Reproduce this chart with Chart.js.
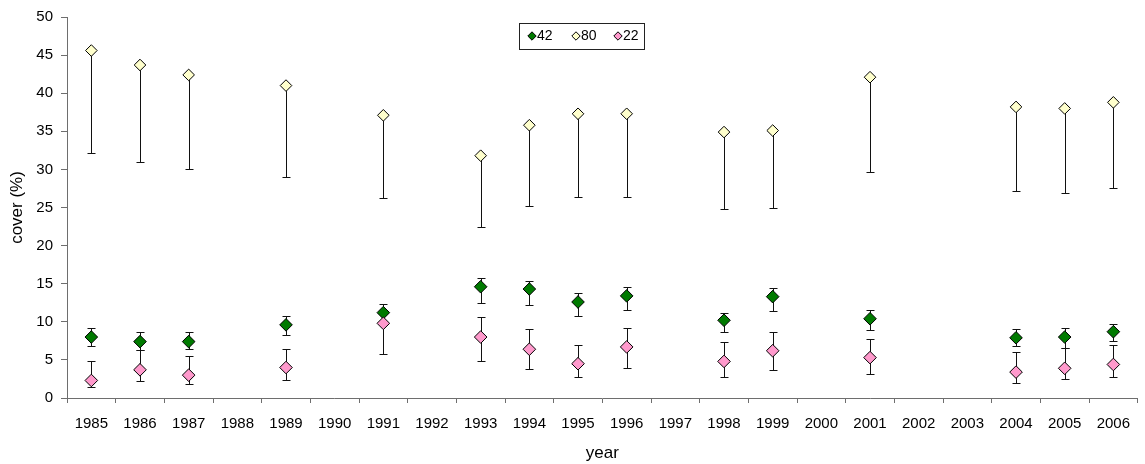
<!DOCTYPE html>
<html>
<head>
<meta charset="utf-8">
<script src="https://cdn.jsdelivr.net/npm/chart.js@4.4.1/dist/chart.umd.min.js"></script>
<style>
  html, body { margin: 0; padding: 0; background: #ffffff; }
  #wrap { width: 1145px; height: 464px; position: relative; }
</style>
</head>
<body>
<div id="wrap"><canvas id="c"></canvas></div>
<script>
// Survey years (a category for every year, surveyed or not)
const years = ['1985','1986','1987','1988','1989','1990','1991','1992','1993','1994','1995',
               '1996','1997','1998','1999','2000','2001','2002','2003','2004','2005','2006'];

// Plot 42: mean cover and error-bar ends
const s42     = [8.0, 7.4, 7.4, null, 9.6, null, 11.2, null, 14.6, 14.3, 12.6, 13.4, null, 10.2, 13.3, null, 10.4, null, null, 7.9, 8.0, 8.7];
const s42High = [9.2, 8.6, 8.6, null, 10.8, null, 12.4, null, 15.7, 15.4, 13.8, 14.6, null, 11.2, 14.4, null, 11.6, null, null, 9.0, 9.2, 9.7];
const s42Low  = [6.8, 6.3, 6.4, null, 8.3, null, 10.0, null, 12.5, 12.2, 10.8, 11.6, null, 8.7, 11.4, null, 8.9, null, null, 6.8, 6.6, 7.5];

// Plot 80: mean cover and lower error-bar end
const s80     = [45.6, 43.7, 42.4, null, 41.0, null, 37.1, null, 31.8, 35.8, 37.3, 37.3, null, 34.9, 35.1, null, 42.1, null, null, 38.2, 38.0, 38.8];
const s80Low  = [32.2, 31.0, 30.0, null, 29.0, null, 26.2, null, 22.4, 25.2, 26.4, 26.4, null, 24.8, 24.9, null, 29.7, null, null, 27.1, 26.9, 27.5];

// Plot 22: mean cover and error-bar ends
const s22     = [2.3, 3.7, 3.0, null, 4.0, null, 9.8, null, 8.0, 6.4, 4.5, 6.7, null, 4.8, 6.2, null, 5.3, null, null, 3.4, 3.9, 4.4];
const s22High = [4.9, 6.3, 5.5, null, 6.4, null, 11.4, null, 10.6, 9.0, 7.0, 9.2, null, 7.3, 8.7, null, 7.8, null, null, 6.0, 6.6, 6.9];
const s22Low  = [1.5, 2.2, 1.8, null, 2.3, null, 5.8, null, 4.8, 3.8, 2.7, 4.0, null, 2.8, 3.7, null, 3.2, null, null, 2.0, 2.5, 2.7];

const yTicks = [0, 5, 10, 15, 20, 25, 30, 35, 40, 45, 50];

const FONT = '"Liberation Sans", Arial, Helvetica, sans-serif';
const AXIS_GREY = '#6e6e6e';

// Vertical error bars with short caps, drawn beneath the markers
const errorBars = {
  id: 'errorBars',
  beforeDatasetsDraw(chart) {
    const ctx = chart.ctx;
    const y = chart.scales.y;
    ctx.save();
    ctx.strokeStyle = '#111111';
    ctx.lineWidth = 1;
    chart.data.datasets.forEach((ds, di) => {
      const meta = chart.getDatasetMeta(di);
      meta.data.forEach((pt, i) => {
        if (ds.data[i] == null) return;
        const x = Math.round(pt.x) + 0.5;
        const yv = y.getPixelForValue(ds.data[i]);
        const ends = [];
        if (ds.errHigh && ds.errHigh[i] != null) ends.push(y.getPixelForValue(ds.errHigh[i]));
        if (ds.errLow && ds.errLow[i] != null) ends.push(y.getPixelForValue(ds.errLow[i]));
        ends.forEach(ye => {
          const yc = Math.round(ye) + 0.5;
          ctx.beginPath();
          ctx.moveTo(x, yv);
          ctx.lineTo(x, yc);
          ctx.moveTo(x - 4, yc);
          ctx.lineTo(x + 4, yc);
          ctx.stroke();
        });
      });
    });
    ctx.restore();
  }
};

// Boxed legend inside the plot
const boxLegend = {
  id: 'boxLegend',
  afterDraw(chart) {
    const ctx = chart.ctx;
    const left = 519, top = 23, w = 125, h = 26;
    ctx.save();
    ctx.fillStyle = '#ffffff';
    ctx.fillRect(left, top, w, h);
    ctx.strokeStyle = '#222222';
    ctx.lineWidth = 1;
    ctx.strokeRect(left + 0.5, top + 0.5, w, h);
    const xs = [532, 576, 618];
    const cy = 36;
    const r = 4.2;
    ctx.font = '14px ' + FONT;
    ctx.textBaseline = 'middle';
    chart.data.datasets.forEach((ds, k) => {
      ctx.fillStyle = ds.backgroundColor;
      ctx.strokeStyle = '#000000';
      ctx.beginPath();
      ctx.moveTo(xs[k] - r, cy); ctx.lineTo(xs[k], cy - r);
      ctx.lineTo(xs[k] + r, cy); ctx.lineTo(xs[k], cy + r);
      ctx.closePath();
      ctx.fill(); ctx.stroke();
      ctx.fillStyle = '#000000';
      ctx.fillText(ds.label, xs[k] + 5, cy + 0.5);
    });
    ctx.restore();
  }
};

const marker = (fill, r) => ({
  backgroundColor: fill,
  borderColor: '#000000',
  borderWidth: 1,
  pointStyle: 'rectRot',
  pointRadius: r,
  pointHoverRadius: r,
  pointBackgroundColor: fill,
  pointBorderColor: '#000000',
  pointBorderWidth: 1,
  showLine: false
});

new Chart(document.getElementById('c'), {
  type: 'line',
  data: {
    labels: years,
    datasets: [
      Object.assign({ label: '42', data: s42, errHigh: s42High, errLow: s42Low, order: 2 }, marker('#007a00', 6.3)),
      Object.assign({ label: '80', data: s80, errHigh: null, errLow: s80Low, order: 1 }, marker('#ffffcc', 5.8)),
      Object.assign({ label: '22', data: s22, errHigh: s22High, errLow: s22Low, order: 0 }, marker('#ff99cc', 6.3))
    ]
  },
  options: {
    responsive: true,
    maintainAspectRatio: false,
    animation: false,
    spanGaps: false,
    layout: { padding: { top: 15, right: 0, left: 0, bottom: 0 } },
    plugins: {
      legend: { display: false },
      tooltip: { enabled: false }
    },
    scales: {
      x: {
        type: 'category',
        offset: true,
        grid: {
          display: true, offset: true, drawOnChartArea: false, drawTicks: true,
          tickLength: 5, color: AXIS_GREY, lineWidth: 1
        },
        border: { display: true, color: AXIS_GREY, width: 1 },
        ticks: { color: '#000000', font: { family: FONT, size: 15 }, padding: 12, maxRotation: 0, autoSkip: false },
        title: { display: true, text: 'year', color: '#000000', font: { family: FONT, size: 17 }, padding: { top: 4, bottom: 0 } },
        afterFit(s) { s.height = 66; }
      },
      y: {
        min: 0, max: 50,
        afterBuildTicks(s) { s.ticks = yTicks.map(v => ({ value: v })); },
        grid: {
          display: true, drawOnChartArea: false, drawTicks: true,
          tickLength: 6, color: AXIS_GREY, lineWidth: 1
        },
        border: { display: true, color: AXIS_GREY, width: 1 },
        ticks: { color: '#000000', font: { family: FONT, size: 15 }, padding: 8 },
        title: { display: true, text: 'cover (%)', color: '#000000', font: { family: FONT, size: 17 }, padding: { top: 7, bottom: 0 } },
        afterFit(s) { s.width = 67; }
      }
    }
  },
  plugins: [errorBars, boxLegend]
});
</script>
</body>
</html>
